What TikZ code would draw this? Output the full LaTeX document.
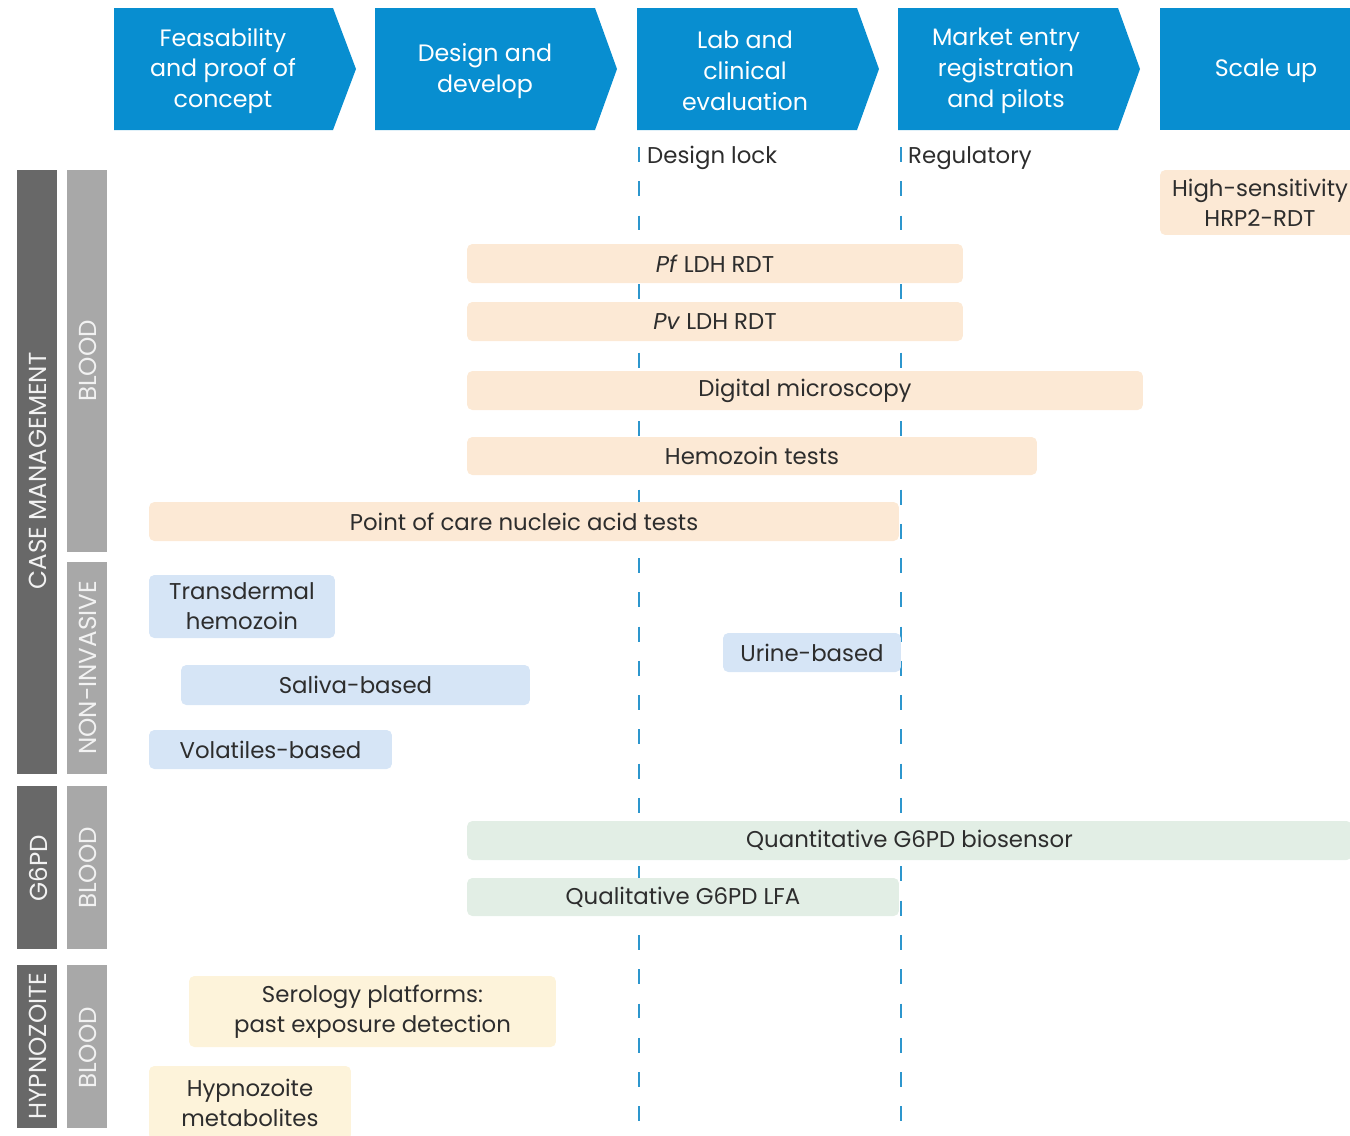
\documentclass[tikz,border=0pt]{standalone}
\usepackage{fontspec}
\setmainfont{Poppins}

\definecolor{stageblue}{RGB}{8,142,208}
\definecolor{dashblue}{RGB}{45,150,205}
\definecolor{peach}{RGB}{252,233,213}
\definecolor{skyblue}{RGB}{214,229,246}
\definecolor{mint}{RGB}{226,238,229}
\definecolor{cream}{RGB}{253,243,218}
\definecolor{catdark}{RGB}{104,104,104}
\definecolor{catlight}{RGB}{168,168,168}
\definecolor{inktext}{RGB}{45,45,45}

\tikzset{
  stage/.style={text=white, align=center, font=\fontsize{13.5}{17.5}\selectfont},
  milestone/.style={anchor=west, text=inktext, font=\fontsize{13}{17}\selectfont},
  phaseline/.style={dashblue, line width=1.6pt, dash pattern=on 8.5pt off 11pt},
  bar/.style={rounded corners=3pt, inner sep=0pt, align=center, text=inktext, font=\fontsize{13}{17}\selectfont},
  peachbar/.style={bar, fill=peach},
  bluebar/.style={bar, fill=skyblue},
  greenbar/.style={bar, fill=mint},
  creambar/.style={bar, fill=cream},
  cattext/.style={rotate=90, text=white!90!gray, font=\fontsize{14}{16}\selectfont}
}

\begin{document}
\begin{tikzpicture}[x=0.02cm, y=-0.02cm]
    \useasboundingbox (0,0) rectangle (1350,1136);

    % stages
    \fill[stageblue] (114,8) -- (333,8) -- (356,69) -- (333,130) -- (114,130) -- cycle;
    \fill[stageblue] (375,8) -- (595,8) -- (617,69) -- (595,130) -- (375,130) -- cycle;
    \fill[stageblue] (637,8) -- (857,8) -- (879,69) -- (857,130) -- (637,130) -- cycle;
    \fill[stageblue] (898,8) -- (1118,8) -- (1140,69) -- (1118,130) -- (898,130) -- cycle;
    \fill[stageblue] (1160,8) rectangle (1360,130);
    \node[stage] (feas) at (223,71) {Feasability\\and proof of\\concept};
    \node[stage] (design) at (485,71) {Design and\\develop};
    \node[stage] (lab) at (745,71) {Lab and\\clinical\\evaluation};
    \node[stage] (market) at (1006,71) {Market entry\\registration\\and pilots};
    \node[stage] (scale) at (1266,71) {Scale up};

    % milestones
    \coordinate (locktop) at (639,147);
    \coordinate (lockend) at (639,1140);
    \coordinate (regtop) at (901,147);
    \coordinate (regend) at (901,1140);
    \draw[phaseline] (locktop) -- (lockend);
    \draw[phaseline] (regtop) -- (regend);
    \node[milestone] (lock) at (641,158) {Design lock};
    \node[milestone] (reg) at (902,158) {Regulatory};

    % categories
    \fill[catdark] (17,170) rectangle (57,774);
    \fill[catdark] (17,786) rectangle (57,949);
    \fill[catdark] (17,965) rectangle (57,1128);
    \fill[catlight] (67,170) rectangle (107,552);
    \fill[catlight] (67,562) rectangle (107,774);
    \fill[catlight] (67,786) rectangle (107,949);
    \fill[catlight] (67,965) rectangle (107,1128);
    \node[cattext] (casemgmt) at (38,471) {CASE MANAGEMENT};
    \node[cattext] (g6pd) at (38,868) {G6PD};
    \node[cattext] (hypnoz) at (38,1046) {HYPNOZOITE};
    \node[cattext] (blood1) at (88,361) {BLOOD};
    \node[cattext] (noninv) at (88,668) {NON-INVASIVE};
    \node[cattext] (blood2) at (88,868) {BLOOD};
    \node[cattext] (blood3) at (88,1048) {BLOOD};

    % case management, blood
    \node[peachbar, minimum width=4cm, minimum height=1.3cm] (hrp) at (1260,202.5) {High-sensitivity\\HRP2-RDT};
    \node[peachbar, minimum width=9.92cm, minimum height=0.78cm] (pfldh) at (715,263.5) {\textit{Pf} LDH RDT};
    \node[peachbar, minimum width=9.92cm, minimum height=0.78cm] (pvldh) at (715,321.5) {\textit{Pv} LDH RDT};
    \node[peachbar, minimum width=13.52cm, minimum height=0.78cm] (digmicro) at (805,390.5) {Digital microscopy};
    \node[peachbar, minimum width=11.4cm, minimum height=0.76cm] (hemozoin) at (752,456) {Hemozoin tests};
    \node[peachbar, minimum width=15cm, minimum height=0.78cm] (poc) at (524,521.5) {Point of care nucleic acid tests};

    % case management, non-invasive
    \node[bluebar, minimum width=3.72cm, minimum height=1.26cm] (transderm) at (242,606.5) {Transdermal\\hemozoin};
    \node[bluebar, minimum width=6.98cm, minimum height=0.8cm] (saliva) at (355.5,685) {Saliva-based};
    \node[bluebar, minimum width=4.86cm, minimum height=0.78cm] (volatiles) at (270.5,749.5) {Volatiles-based};
    \node[bluebar, minimum width=3.56cm, minimum height=0.78cm] (urine) at (812,652.5) {Urine-based};

    % g6pd
    \node[greenbar, minimum width=17.7cm, minimum height=0.78cm] (quant) at (909.5,840.5) {Quantitative G6PD biosensor};
    \node[greenbar, minimum width=8.64cm, minimum height=0.76cm] (qual) at (683,897) {Qualitative G6PD LFA};

    % hypnozoite
    \node[creambar, minimum width=7.34cm, minimum height=1.42cm] (serology) at (372.5,1011.5) {Serology platforms:\\past exposure detection};
    \node[creambar, minimum width=4.04cm, minimum height=1.48cm] (metab) at (250,1103) {Hypnozoite\\metabolites};

\end{tikzpicture}
\end{document}
